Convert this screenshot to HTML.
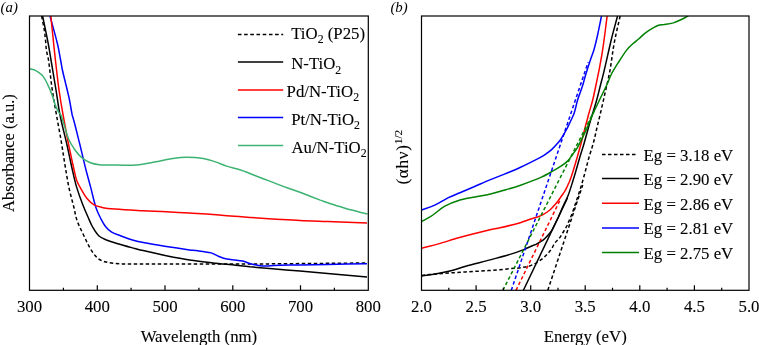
<!DOCTYPE html>
<html><head><meta charset="utf-8"><style>
html,body{margin:0;padding:0;background:#fff;}
svg{display:block;will-change:transform;}
text{font-family:"Liberation Serif",serif;fill:#000;stroke:#000;stroke-width:0.1px;}
</style></head><body>
<svg width="759" height="345" viewBox="0 0 759 345">
<rect width="759" height="345" fill="#fff"/>

<defs><clipPath id="cl"><rect x="29.5" y="16.0" width="338.8" height="274.3"/></clipPath>
<clipPath id="cr"><rect x="421.5" y="16.0" width="327.5" height="274.3"/></clipPath></defs>
<path d="M41.6 16.0 C42.5 20.7 43.6 25.3 44.3 30.0 C44.9 34.0 45.3 38.0 45.7 42.0 C46.0 44.7 46.0 47.4 46.4 50.0 C46.9 53.4 48.0 56.6 48.5 60.0 C49.9 69.3 50.6 78.7 52.0 88.0 C53.3 97.0 54.9 106.0 56.5 115.0 C57.9 123.3 59.6 131.7 61.0 140.0 C62.7 150.0 64.1 160.0 65.8 170.0 C66.8 175.8 67.7 181.6 68.9 187.4 C70.4 194.4 72.4 201.3 74.1 208.3 C75.1 212.5 75.7 216.9 77.2 221.0 C79.0 226.0 81.6 230.8 83.9 235.7 C86.1 240.4 88.2 245.2 90.9 249.6 C92.8 252.7 95.1 255.9 97.8 258.3 C99.7 260.0 102.3 261.0 104.8 261.7 C108.1 262.7 111.7 263.2 115.2 263.5 C120.1 263.9 125.1 264.0 130.0 264.0 C170.0 264.1 210.0 264.2 250.0 264.0 C288.7 263.8 327.3 263.3 366.0 263.0" fill="none" stroke="#000" stroke-width="1.5" stroke-linejoin="round" stroke-dasharray="3.5 2.5" clip-path="url(#cl)"/>
<path d="M42.6 16.0 C44.5 25.3 46.5 34.6 48.3 44.0 C49.3 49.3 50.1 54.7 51.0 60.0 C52.7 70.0 54.4 80.0 56.0 90.0 C57.4 98.3 58.3 106.7 60.0 115.0 C62.0 125.1 64.7 135.0 67.0 145.0 C68.9 153.3 70.5 161.7 72.4 170.0 C73.7 175.8 75.0 181.7 76.7 187.4 C78.5 193.3 80.6 199.1 82.8 204.8 C84.4 208.9 86.2 213.0 88.0 217.0 C89.5 220.4 90.8 223.8 92.6 227.0 C94.4 230.1 96.2 233.3 98.7 235.7 C100.8 237.7 103.8 238.8 106.5 240.0 C109.9 241.4 113.5 242.4 117.0 243.5 C121.8 245.0 126.7 246.3 131.6 247.6 C135.5 248.6 139.3 249.7 143.2 250.6 C150.9 252.4 158.6 254.1 166.3 255.7 C174.0 257.2 181.7 258.7 189.5 259.9 C197.2 261.1 205.0 262.0 212.7 262.9 C220.4 263.8 228.2 264.4 235.9 265.2 C240.6 265.7 245.3 266.3 250.0 266.8 C257.5 267.5 265.0 268.2 272.5 268.8 C281.7 269.6 290.8 270.2 300.0 271.0 C309.2 271.8 318.4 272.7 327.6 273.5 C340.7 274.7 353.9 275.8 367.0 277.0" fill="none" stroke="#000" stroke-width="1.5" stroke-linejoin="round" clip-path="url(#cl)"/>
<path d="M50.0 16.0 C52.5 25.3 55.2 34.6 57.5 44.0 C58.8 49.3 59.6 54.7 60.6 60.0 C61.2 63.3 61.7 66.7 62.4 70.0 C63.5 75.0 64.8 80.0 66.0 85.0 C67.2 90.0 68.5 95.0 69.5 100.0 C70.5 105.0 71.2 110.0 72.2 115.0 C72.6 116.7 73.3 118.3 73.7 120.0 C75.9 128.3 77.9 136.7 80.0 145.0 C82.0 153.3 83.9 161.7 86.0 170.0 C87.5 175.8 89.2 181.6 90.7 187.4 C92.5 194.1 93.8 200.9 95.9 207.4 C97.1 211.1 98.8 214.6 100.5 218.0 C102.0 220.9 103.5 223.9 105.5 226.5 C107.2 228.7 109.3 230.7 111.7 232.2 C114.3 233.8 117.5 234.6 120.4 235.7 C124.1 237.1 127.8 238.6 131.6 239.7 C135.4 240.8 139.3 241.7 143.2 242.5 C150.9 244.0 158.6 245.2 166.3 246.4 C174.0 247.6 181.8 248.8 189.5 249.9 C191.8 250.2 194.2 250.3 196.5 250.6 C198.7 250.9 201.0 251.2 203.2 251.6 C205.8 252.0 208.6 252.1 211.1 252.9 C213.8 253.7 216.3 255.4 219.0 256.5 C221.6 257.5 224.2 258.5 226.9 259.1 C229.5 259.7 232.2 259.7 234.8 260.0 C237.4 260.3 240.1 260.5 242.7 261.1 C245.4 261.7 247.9 263.0 250.6 263.7 C253.2 264.4 255.8 265.0 258.5 265.4 C261.1 265.8 263.8 266.0 266.4 266.0 C269.0 266.0 271.7 265.5 274.3 265.4 C282.9 265.1 291.4 265.1 300.0 264.9 C309.2 264.7 318.4 264.6 327.6 264.4 C340.7 264.2 353.9 264.0 367.0 263.8" fill="none" stroke="#0000ff" stroke-width="1.5" stroke-linejoin="round" clip-path="url(#cl)"/>
<path d="M50.8 16.0 C51.8 25.3 52.7 34.7 53.7 44.0 C54.3 49.3 54.8 54.7 55.4 60.0 C56.6 70.0 57.6 80.0 59.0 90.0 C60.2 98.4 61.6 106.7 63.1 115.0 C64.9 125.0 66.7 135.0 68.7 145.0 C70.4 153.4 72.2 161.7 74.1 170.0 C74.9 173.5 75.5 177.1 76.7 180.4 C77.8 183.4 79.5 186.3 81.1 189.1 C83.0 192.4 84.8 195.8 87.2 198.7 C89.1 201.0 91.5 203.3 94.1 204.8 C96.4 206.2 99.3 206.8 102.0 207.4 C106.3 208.3 110.6 208.7 115.0 209.1 C124.4 209.9 133.8 210.3 143.2 210.8 C150.9 211.2 158.6 211.3 166.3 211.7 C174.0 212.1 181.8 212.6 189.5 213.1 C197.2 213.6 205.0 214.0 212.7 214.6 C218.7 215.0 224.6 215.7 230.6 216.1 C237.1 216.6 243.5 217.0 250.0 217.4 C257.5 217.9 265.0 218.4 272.5 218.9 C281.7 219.4 290.8 220.0 300.0 220.4 C309.2 220.9 318.4 221.2 327.6 221.6 C340.7 222.1 353.9 222.5 367.0 223.0" fill="none" stroke="#ff0000" stroke-width="1.5" stroke-linejoin="round" clip-path="url(#cl)"/>
<path d="M29.5 68.7 C31.5 69.3 33.6 69.4 35.4 70.4 C37.9 71.7 40.5 73.5 42.4 75.6 C44.6 78.1 46.1 81.3 47.6 84.3 C49.3 87.7 50.7 91.2 52.0 94.8 C53.3 98.2 54.1 101.8 55.4 105.2 C56.3 107.5 57.3 109.8 58.5 112.0 C59.1 113.1 60.4 113.8 60.9 115.0 C62.3 118.3 63.2 121.9 64.3 125.4 C65.8 130.0 66.8 134.9 68.7 139.3 C70.3 143.0 72.5 146.5 74.8 149.8 C76.8 152.6 79.1 155.4 81.7 157.6 C84.3 159.7 87.3 161.5 90.4 162.8 C93.1 163.9 96.2 164.4 99.2 164.7 C105.3 165.2 111.5 165.0 117.7 165.1 C123.8 165.1 130.0 165.5 136.1 165.0 C142.3 164.5 148.5 163.2 154.6 162.1 C160.8 161.0 166.8 159.4 173.0 158.5 C177.6 157.8 182.3 157.3 187.0 157.3 C192.4 157.3 197.9 157.7 203.3 158.6 C207.4 159.3 211.4 160.6 215.4 161.9 C219.2 163.1 222.7 164.9 226.5 166.1 C230.9 167.5 235.6 168.3 240.0 169.7 C243.9 171.0 247.7 172.7 251.6 174.2 C255.5 175.7 259.3 177.2 263.2 178.7 C267.1 180.2 270.9 181.6 274.8 183.1 C278.7 184.6 282.5 186.1 286.4 187.5 C290.9 189.1 295.5 190.6 300.0 192.3 C303.4 193.5 306.7 194.9 310.1 196.2 C313.5 197.5 316.9 198.8 320.3 200.1 C323.7 201.3 327.0 202.6 330.4 203.7 C333.8 204.8 337.2 205.8 340.6 206.8 C344.0 207.8 347.3 208.9 350.7 209.8 C354.1 210.7 357.5 211.6 360.9 212.4 C363.1 212.9 365.3 213.4 367.5 213.9" fill="none" stroke="#3cb371" stroke-width="1.5" stroke-linejoin="round" clip-path="url(#cl)"/>
<path d="M421.5 275.4 C428.3 274.8 435.1 274.0 441.9 273.5 C449.9 272.9 457.8 272.4 465.8 271.9 C473.2 271.4 480.6 271.1 488.0 270.6 C495.3 270.1 502.7 269.4 510.0 268.7 C513.8 268.4 517.7 268.2 521.5 267.6 C524.6 267.1 527.8 266.8 530.7 265.6 C534.6 264.0 538.5 261.7 541.9 259.1 C545.2 256.5 548.2 253.3 550.8 250.0 C552.5 247.8 553.4 245.0 555.0 242.8 C556.4 240.9 558.4 239.5 559.8 237.6 C561.0 236.0 561.9 234.2 563.0 232.5 C564.1 230.7 565.2 229.0 566.2 227.2 C567.1 225.6 567.8 223.8 568.5 222.1 C569.9 218.9 571.3 215.7 572.5 212.5 C573.7 209.4 574.6 206.2 575.7 203.0 C576.4 200.8 577.2 198.5 577.9 196.3 C578.8 193.5 579.7 190.8 580.6 188.0 C581.4 185.5 582.1 183.0 582.8 180.5 C583.5 178.0 584.2 175.5 584.9 173.0 C586.2 168.0 587.4 163.0 588.8 158.0 C589.5 155.5 590.3 153.0 591.1 150.5 C591.9 148.0 592.7 145.5 593.4 143.0 C594.7 138.0 595.7 133.0 596.9 128.0 C597.5 125.5 598.1 123.0 598.7 120.5 C599.3 118.0 599.9 115.5 600.5 113.0 C601.9 107.0 603.3 100.9 604.6 94.9 C606.4 87.1 608.3 79.3 609.8 71.4 C611.5 62.2 612.4 52.8 614.1 43.6 C615.8 34.2 618.2 25.0 620.2 15.7" fill="none" stroke="#000" stroke-width="1.5" stroke-linejoin="round" stroke-dasharray="3.5 2.5" clip-path="url(#cr)"/>
<path d="M421.5 275.9 C425.7 275.4 429.9 275.0 434.0 274.3 C439.3 273.4 444.7 272.4 449.9 271.1 C455.3 269.8 460.5 267.8 465.8 266.3 C473.2 264.2 480.6 262.4 488.0 260.4 C495.3 258.4 502.7 256.6 510.0 254.4 C514.6 253.0 519.2 251.4 523.7 249.6 C526.7 248.5 529.5 247.0 532.4 245.7 C533.7 245.1 535.2 244.8 536.5 244.1 C538.7 242.9 541.0 241.7 543.0 240.2 C544.9 238.7 546.6 236.8 548.2 235.0 C549.6 233.4 551.0 231.6 552.1 229.8 C553.2 228.1 553.9 226.3 554.8 224.5 C556.0 222.0 557.3 219.5 558.5 217.0 C559.5 214.7 560.4 212.3 561.4 210.0 C562.5 207.5 563.7 205.0 564.8 202.5 C566.0 200.0 567.3 197.6 568.3 195.0 C570.1 190.2 571.5 185.3 573.0 180.5 C573.8 178.0 574.6 175.5 575.3 173.0 C576.8 168.0 578.1 163.0 579.6 158.0 C580.3 155.5 581.1 153.0 581.9 150.5 C582.7 148.0 583.5 145.5 584.2 143.0 C586.3 135.5 588.3 128.0 590.5 120.5 C592.5 113.6 594.8 106.9 596.7 100.0 C597.9 95.7 598.9 91.3 600.0 87.0 C601.3 81.8 602.8 76.6 604.0 71.4 C606.5 61.0 608.7 50.4 611.2 40.0 C613.2 31.9 615.5 23.8 617.6 15.7" fill="none" stroke="#000" stroke-width="1.5" stroke-linejoin="round" clip-path="url(#cr)"/>
<path d="M421.5 248.3 C427.1 246.8 432.7 245.5 438.3 243.9 C445.1 242.0 451.8 239.7 458.6 237.8 C468.4 235.1 478.2 232.7 488.0 230.3 C492.0 229.3 496.0 228.7 500.0 227.8 C506.8 226.2 513.6 224.6 520.3 222.7 C523.6 221.8 526.8 220.4 530.0 219.3 C531.7 218.7 533.4 218.4 535.0 217.8 C537.7 216.8 540.5 215.9 543.0 214.6 C545.4 213.3 547.8 211.7 549.9 210.0 C551.5 208.7 552.7 207.1 554.1 205.6 C555.4 204.1 556.8 202.6 558.0 201.0 C559.5 199.1 560.8 197.0 562.2 195.0 C563.1 193.7 564.1 192.4 564.9 191.0 C565.8 189.6 566.5 188.0 567.2 186.5 C568.1 184.5 569.1 182.5 569.9 180.5 C570.9 178.0 571.7 175.5 572.5 173.0 C574.1 168.0 575.5 163.0 577.0 158.0 C577.7 155.5 578.4 153.0 579.1 150.5 C579.8 148.0 580.5 145.5 581.2 143.0 C582.5 138.0 583.7 133.0 585.0 128.0 C585.6 125.5 586.3 123.0 587.0 120.5 C587.7 118.0 588.3 115.5 589.0 113.0 C590.2 108.7 591.6 104.4 592.7 100.0 C593.4 97.5 593.8 95.0 594.4 92.5 C594.9 90.0 595.5 87.5 596.0 85.0 C596.9 80.5 597.9 75.9 598.8 71.4 C600.2 63.9 601.7 56.4 602.8 48.8 C604.5 37.8 605.7 26.7 607.2 15.7" fill="none" stroke="#ff0000" stroke-width="1.5" stroke-linejoin="round" clip-path="url(#cr)"/>
<path d="M421.4 210.0 C425.7 208.5 430.1 207.3 434.2 205.4 C439.1 203.2 443.6 200.0 448.4 197.6 C452.2 195.8 456.1 194.4 460.0 192.8 C465.1 190.6 470.1 188.4 475.2 186.2 C480.3 184.0 485.4 181.7 490.5 179.6 C495.5 177.5 500.7 175.7 505.7 173.6 C510.7 171.5 515.7 169.5 520.6 167.2 C527.1 164.2 533.6 160.9 540.0 157.6 C541.7 156.7 543.4 155.7 545.0 154.6 C547.3 153.0 549.6 151.4 551.6 149.6 C553.8 147.6 555.8 145.3 557.8 143.0 C558.9 141.8 560.0 140.5 560.9 139.1 C563.1 135.7 565.1 132.2 567.0 128.7 C568.4 126.0 569.6 123.3 570.9 120.5 C572.0 118.0 573.4 115.6 574.2 113.0 C575.6 108.8 576.3 104.3 577.6 100.0 C578.3 97.5 579.3 95.0 580.2 92.5 C581.1 90.0 582.0 87.5 582.8 85.0 C583.8 81.7 584.6 78.3 585.6 75.0 C587.1 70.0 588.7 65.0 590.4 60.0 C591.5 56.6 592.9 53.4 593.9 50.0 C595.3 45.1 596.5 40.0 597.6 35.0 C599.0 28.7 600.2 22.3 601.5 16.0" fill="none" stroke="#0000ff" stroke-width="1.5" stroke-linejoin="round" clip-path="url(#cr)"/>
<path d="M421.4 221.6 C425.0 219.6 428.8 217.8 432.2 215.5 C436.4 212.7 440.0 208.9 444.4 206.4 C449.3 203.7 454.7 201.6 460.0 200.0 C464.9 198.5 470.1 197.9 475.2 196.9 C480.3 195.9 485.4 195.1 490.5 193.9 C495.6 192.7 500.7 191.3 505.7 189.8 C510.7 188.4 515.7 186.9 520.6 185.2 C527.4 182.8 534.3 180.3 540.9 177.4 C545.4 175.4 549.6 172.8 553.9 170.4 C556.3 169.1 558.7 167.7 561.0 166.2 C563.4 164.6 565.8 162.9 567.8 160.9 C569.8 158.9 571.3 156.3 573.0 154.0 C574.5 151.9 576.1 149.8 577.4 147.6 C579.3 144.3 580.9 140.8 582.6 137.4 C584.1 134.4 585.6 131.4 587.0 128.3 C588.1 125.7 589.0 123.1 590.1 120.5 C591.1 118.0 592.2 115.5 593.3 113.0 C595.5 108.3 597.8 103.7 600.0 99.0 C601.2 96.5 602.4 94.0 603.6 91.5 C604.8 89.0 606.1 86.5 607.2 84.0 C608.7 80.7 609.8 77.2 611.5 74.0 C613.8 69.5 616.6 65.3 619.3 61.0 C621.8 57.1 624.2 53.2 627.0 49.6 C628.7 47.5 630.8 45.6 632.8 43.8 C634.7 42.1 636.7 40.6 638.6 39.0 C640.9 37.0 643.0 34.7 645.5 32.8 C648.0 30.9 650.8 29.2 653.6 27.6 C655.4 26.6 657.4 25.6 659.4 25.0 C660.9 24.6 662.5 24.8 664.1 24.6 C667.2 24.1 670.3 23.7 673.3 22.9 C675.7 22.2 678.0 21.1 680.3 20.0 C683.0 18.7 685.7 17.2 688.4 15.8" fill="none" stroke="#008000" stroke-width="1.5" stroke-linejoin="round" clip-path="url(#cr)"/>
<path d="M547.8 290.3 L582.7 185.0" fill="none" stroke="#000" stroke-width="1.5" stroke-linejoin="round" stroke-dasharray="3.5 2.5" clip-path="url(#cr)"/>
<path d="M523.4 290.3 L567.5 198.0" fill="none" stroke="#000" stroke-width="1.5" stroke-linejoin="round" clip-path="url(#cr)"/>
<path d="M516.0 290.3 L560.6 199.0" fill="none" stroke="#ff0000" stroke-width="1.5" stroke-linejoin="round" stroke-dasharray="3.5 2.5" clip-path="url(#cr)"/>
<path d="M511.3 290.3 L588.2 62.0" fill="none" stroke="#0000ff" stroke-width="1.5" stroke-linejoin="round" stroke-dasharray="3.5 2.5" clip-path="url(#cr)"/>
<path d="M502.9 290.3 L594.7 110.0" fill="none" stroke="#008000" stroke-width="1.5" stroke-linejoin="round" stroke-dasharray="3.5 2.5" clip-path="url(#cr)"/>
<rect x="29.5" y="16.0" width="338.8" height="274.3" fill="none" stroke="#000" stroke-width="1.2"/>
<rect x="421.5" y="16.0" width="327.5" height="274.3" fill="none" stroke="#000" stroke-width="1.2"/>
<path d="M63.4 290.3 V287.8 M97.3 290.3 V285.3 M131.1 290.3 V287.8 M165.0 290.3 V285.3 M198.9 290.3 V287.8 M232.8 290.3 V285.3 M266.7 290.3 V287.8 M300.5 290.3 V285.3 M334.4 290.3 V287.8 M448.8 290.3 V287.8 M476.1 290.3 V285.3 M503.4 290.3 V287.8 M530.7 290.3 V285.3 M558.0 290.3 V287.8 M585.2 290.3 V285.3 M612.5 290.3 V287.8 M639.8 290.3 V285.3 M667.1 290.3 V287.8 M694.4 290.3 V285.3 M721.7 290.3 V287.8" stroke="#000" stroke-width="1.2" fill="none"/>
<text x="29.5" y="312.0" font-size="16.8" text-anchor="middle" >300</text>
<text x="97.3" y="312.0" font-size="16.8" text-anchor="middle" >400</text>
<text x="165.0" y="312.0" font-size="16.8" text-anchor="middle" >500</text>
<text x="232.8" y="312.0" font-size="16.8" text-anchor="middle" >600</text>
<text x="300.5" y="312.0" font-size="16.8" text-anchor="middle" >700</text>
<text x="368.3" y="312.0" font-size="16.8" text-anchor="middle" >800</text>
<text x="421.5" y="312.0" font-size="16.8" text-anchor="middle" >2.0</text>
<text x="476.1" y="312.0" font-size="16.8" text-anchor="middle" >2.5</text>
<text x="530.7" y="312.0" font-size="16.8" text-anchor="middle" >3.0</text>
<text x="585.2" y="312.0" font-size="16.8" text-anchor="middle" >3.5</text>
<text x="639.8" y="312.0" font-size="16.8" text-anchor="middle" >4.0</text>
<text x="694.4" y="312.0" font-size="16.8" text-anchor="middle" >4.5</text>
<text x="749.0" y="312.0" font-size="16.8" text-anchor="middle" >5.0</text>
<text x="198.9" y="341.5" font-size="16.8" text-anchor="middle" >Wavelength (nm)</text>
<text x="585.2" y="341.5" font-size="16.8" text-anchor="middle" >Energy (eV)</text>
<text transform="translate(14.4 153.0) rotate(-90)" font-size="16.5" text-anchor="middle">Absorbance (a.u.)</text>
<text transform="translate(408.1 184.6) rotate(-90)" font-size="17.2"><tspan textLength="39.5" lengthAdjust="spacing">(&#945;h&#957;)</tspan><tspan font-size="11.2" dx="0.3" dy="-6.3">1/2</tspan></text>
<text x="0.6" y="11.6" font-size="14.8" font-style="italic" style="stroke-width:0">(a)</text>
<text x="390.4" y="11.6" font-size="14.8" font-style="italic" style="stroke-width:0">(b)</text>
<path d="M237.9 34.4 H283.2" fill="none" stroke="#000" stroke-width="1.5" stroke-linejoin="round" stroke-dasharray="3.6 2.6"/>
<text x="291.2" y="38.7" font-size="16.8" text-anchor="start" >TiO<tspan font-size="11.8" dy="4.6">2</tspan><tspan dy="-4.6"> (P25)</tspan></text>
<path d="M237.9 62.0 H283.2" fill="none" stroke="#000" stroke-width="1.5" stroke-linejoin="round"/>
<text x="291.2" y="69.0" font-size="16.8" text-anchor="start" >N-TiO<tspan font-size="11.8" dy="4.6">2</tspan></text>
<path d="M237.9 90.1 H283.2" fill="none" stroke="#ff0000" stroke-width="1.5" stroke-linejoin="round"/>
<text x="286.6" y="96.8" font-size="16.8" text-anchor="start" >Pd/N-TiO<tspan font-size="11.8" dy="4.6">2</tspan></text>
<path d="M237.9 117.5 H283.2" fill="none" stroke="#0000ff" stroke-width="1.5" stroke-linejoin="round"/>
<text x="291.2" y="124.5" font-size="16.8" text-anchor="start" >Pt/N-TiO<tspan font-size="11.8" dy="4.6">2</tspan></text>
<path d="M237.9 145.6 H283.2" fill="none" stroke="#3cb371" stroke-width="1.5" stroke-linejoin="round"/>
<text x="291.4" y="152.8" font-size="16.8" text-anchor="start" >Au/N-TiO<tspan font-size="11.8" dy="4.6">2</tspan></text>
<path d="M602 154.4 H636" fill="none" stroke="#000" stroke-width="1.5" stroke-linejoin="round" stroke-dasharray="3.5 2.5"/>
<text x="643.6" y="160.6" font-size="16.8" text-anchor="start" >Eg = 3.18 eV</text>
<path d="M602 178.6 H639" fill="none" stroke="#000" stroke-width="1.5" stroke-linejoin="round"/>
<text x="643.6" y="184.8" font-size="16.8" text-anchor="start" >Eg = 2.90 eV</text>
<path d="M602 203.3 H639" fill="none" stroke="#ff0000" stroke-width="1.5" stroke-linejoin="round"/>
<text x="643.6" y="209.5" font-size="16.8" text-anchor="start" >Eg = 2.86 eV</text>
<path d="M602 227.9 H639" fill="none" stroke="#0000ff" stroke-width="1.5" stroke-linejoin="round"/>
<text x="643.6" y="234.1" font-size="16.8" text-anchor="start" >Eg = 2.81 eV</text>
<path d="M602 252.4 H639" fill="none" stroke="#008000" stroke-width="1.5" stroke-linejoin="round"/>
<text x="643.6" y="258.6" font-size="16.8" text-anchor="start" >Eg = 2.75 eV</text>
</svg></body></html>
